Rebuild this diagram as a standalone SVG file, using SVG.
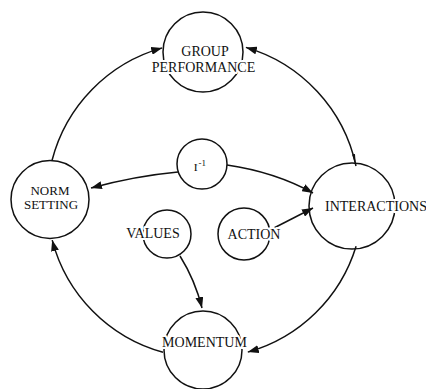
<svg xmlns="http://www.w3.org/2000/svg" width="426" height="389" viewBox="0 0 426 389">
<style>
.node circle{fill:none;stroke:#111;stroke-width:1.5}
.node text{font-family:"Liberation Serif","Times New Roman",serif;font-size:14px;fill:#111;text-anchor:middle;stroke:#fff;stroke-width:4px;paint-order:stroke;stroke-linejoin:round}
.node text.sm{font-size:13px}
.conn path{fill:none;stroke:#111;stroke-width:1.5}
</style>
<defs>
<marker id="ah" markerUnits="userSpaceOnUse" markerWidth="11" markerHeight="8" refX="11" refY="4" orient="auto">
<path d="M0,0 L11,4 L0,8 z" fill="#111"/>
</marker>
<marker id="wedge" markerUnits="userSpaceOnUse" markerWidth="12" markerHeight="5" refX="12" refY="2.5" orient="auto-start-reverse">
<path d="M0,1 L12,2.5 L0,4 z" fill="#111"/>
</marker>
</defs>
<rect width="426" height="389" fill="#fff"/>
<g class="conn">
<path d="M52,160.5 A158 158 0 0 1 162.2,47.9" marker-end="url(#ah)"/>
<path d="M356,166 A158 158 0 0 0 245.9,47.4" marker-start="url(#wedge)" marker-end="url(#ah)"/>
<path d="M356.1,246.2 A158 158 0 0 1 247.8,352.1" marker-end="url(#ah)"/>
<path d="M163,352.3 A158 158 0 0 1 52.2,240.1" marker-end="url(#ah)"/>
<path d="M178,172 Q135,176 91,188" marker-end="url(#ah)"/>
<path d="M227,165 Q275,172 313,193" marker-end="url(#ah)"/>
<path d="M270,230 L313,208" marker-end="url(#ah)"/>
<path d="M180,256 Q195,280 202,308" marker-end="url(#ah)"/>
</g>
<g id="group-performance" class="node">
<circle cx="203" cy="52" r="40"/>
<text x="205" y="56">GROUP</text>
<text x="203.5" y="72">PERFORMANCE</text>
</g>
<g id="norm-setting" class="node">
<circle cx="50" cy="199.5" r="39"/>
<text class="sm" x="50" y="195">NORM</text>
<text class="sm" x="51" y="209">SETTING</text>
</g>
<g id="interactions" class="node">
<circle cx="352" cy="206" r="43"/>
<text x="376" y="211">INTERACTIONS</text>
</g>
<g id="r-inverse" class="node">
<circle cx="202" cy="164" r="25"/>
<text x="200" y="171">r<tspan font-size="9" dy="-5">-1</tspan></text>
</g>
<g id="values" class="node">
<circle cx="167" cy="234" r="24"/>
<text x="153" y="238">VALUES</text>
</g>
<g id="action" class="node">
<circle cx="244" cy="234" r="26"/>
<text x="254" y="239">ACTION</text>
</g>
<g id="momentum" class="node">
<circle cx="203" cy="350" r="39"/>
<text x="204.5" y="347">MOMENTUM</text>
</g>
</svg>
